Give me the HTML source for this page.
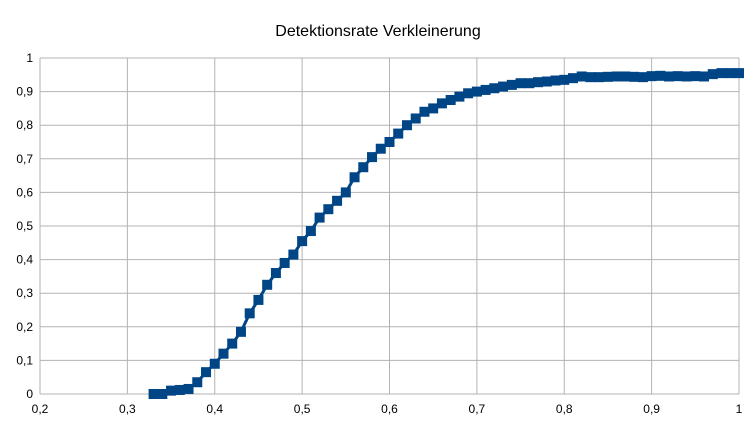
<!DOCTYPE html>
<html><head><meta charset="utf-8"><style>
body{margin:0;background:#fff}
svg text{font-family:"Liberation Sans",sans-serif;fill:#000}
</style></head><body>
<svg id="c" width="756" height="425"></svg>
<script>
const xVals=[0.33,0.34,0.35,0.36,0.37,0.38,0.39,0.40,0.41,0.42,0.43,0.44,0.45,0.46,0.47,0.48,0.49,0.50,0.51,0.52,0.53,0.54,0.55,0.56,0.57,0.58,0.59,0.60,0.61,0.62,0.63,0.64,0.65,0.66,0.67,0.68,0.69,0.70,0.71,0.72,0.73,0.74,0.75,0.76,0.77,0.78,0.79,0.80,0.81,0.82,0.83,0.84,0.85,0.86,0.87,0.88,0.89,0.90,0.91,0.92,0.93,0.94,0.95,0.96,0.97,0.98,0.99,1.00];
const yVals=[0,0,0.01,0.012,0.015,0.035,0.065,0.09,0.12,0.15,0.185,0.24,0.28,0.325,0.36,0.39,0.415,0.455,0.485,0.525,0.55,0.575,0.6,0.645,0.675,0.705,0.73,0.75,0.775,0.8,0.82,0.84,0.85,0.865,0.875,0.885,0.895,0.9,0.905,0.91,0.915,0.92,0.925,0.925,0.928,0.93,0.933,0.935,0.94,0.945,0.943,0.943,0.944,0.945,0.945,0.944,0.943,0.946,0.947,0.945,0.946,0.945,0.946,0.945,0.952,0.955,0.955,0.955];
const xTicks=["0,2","0,3","0,4","0,5","0,6","0,7","0,8","0,9","1"];
const yTicks=["0","0,1","0,2","0,3","0,4","0,5","0,6","0,7","0,8","0,9","1"];
const title="Detektionsrate Verkleinerung";
const NS="http://www.w3.org/2000/svg";
const svg=document.getElementById('c');
const X=v=>40+(v-0.2)/0.8*699, Y=v=>394-v*336;
function mk(t,a,p){const e=document.createElementNS(NS,t);for(const k in a)e.setAttribute(k,a[k]);(p||svg).appendChild(e);return e;}
let t=mk('text',{x:378,y:36,'text-anchor':'middle','font-size':16});t.textContent=title;


yTicks.forEach((s,i)=>{const v=i/10;
 const l=mk('line',{x1:40,x2:739,y1:Y(v),y2:Y(v),stroke:'#b3b3b3','stroke-width':1});
 
 
 const tx=mk('text',{x:33,y:Y(v)+4,'text-anchor':'end','font-size':12});tx.textContent=s;
 
 
});
xTicks.forEach((s,i)=>{const v=0.2+i/10;
 const l=mk('line',{y1:58,y2:394,x1:X(v),x2:X(v),stroke:'#b3b3b3','stroke-width':1});
 
 
 const tx=mk('text',{x:X(v),y:413,'text-anchor':'middle','font-size':12});tx.textContent=s;
 
 
});
const pl=mk('polyline',{points:xVals.map((x,i)=>X(x)+','+Y(yVals[i])).join(' '),fill:'none',stroke:'#004586','stroke-width':3});


xVals.forEach((x,i)=>{const r=mk('rect',{x:X(x)-5,y:Y(yVals[i])-5,width:10,height:10,fill:'#004586'});
 
 
});
</script>
</body></html>
